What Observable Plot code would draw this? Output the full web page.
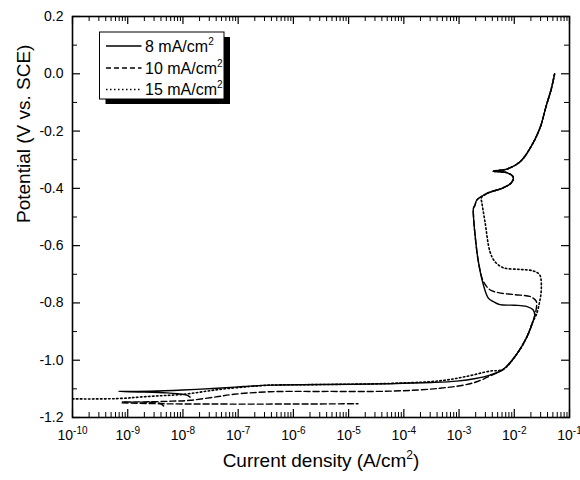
<!DOCTYPE html>
<html><head><meta charset="utf-8">
<script src="https://cdn.jsdelivr.net/npm/d3@7"></script>
<script src="https://cdn.jsdelivr.net/npm/@observablehq/plot@0.6"></script>
<style>body{margin:0;background:#fff;}</style>
</head><body><div id="chart"></div>
<script>
// ---- Data (log10 of current density in A/cm^2, potential in V vs. SCE) ----
const seriesNames = ["8 mA/cm2", "10 mA/cm2", "15 mA/cm2"];

// common anodic upper part (all three curves overlap)
const upperLogI = [-2.5, -2.2, -2.05, -2.02, -2.14, -2.38, -2.14, -1.9, -1.72, -1.54, -1.42, -1.33, -1.27];
const upperE    = [-0.418, -0.398, -0.38, -0.36, -0.345, -0.34, -0.333, -0.308, -0.262, -0.192, -0.111, -0.053, 0.0];

// 8 mA/cm2 (solid)
const s8LogI = [-7.87, -7.93, -8.1, -8.29, -8.7, -9.17, -8.59, -8.0, -7.38, -6.9, -6.42, -5.5, -4.25, -3.5, -3.04, -2.7, -2.44, -2.2, -1.96, -1.78, -1.66, -1.63, -1.66, -1.78, -2.0, -2.26, -2.38, -2.47, -2.56, -2.65, -2.71, -2.74, -2.74, -2.71, -2.68];
const s8E    = [-1.129, -1.122, -1.117, -1.114, -1.111, -1.109, -1.108, -1.104, -1.098, -1.092, -1.087, -1.085, -1.082, -1.078, -1.073, -1.064, -1.052, -1.032, -0.98, -0.922, -0.864, -0.841, -0.824, -0.812, -0.808, -0.806, -0.795, -0.783, -0.737, -0.656, -0.563, -0.493, -0.47, -0.458, -0.441];

// 10 mA/cm2 (dashed) main branch
const d10LogI = [-8.35, -8.42, -8.6, -9.1, -8.6, -8.2, -7.87, -7.4, -7.08, -6.42, -5.5, -4.25, -3.35, -2.74, -2.32, -2.2, -1.96, -1.78, -1.66, -1.61, -1.6, -1.66, -1.72, -2.0, -2.29, -2.44, -2.56, -2.65, -2.71, -2.74, -2.74, -2.71, -2.68];
const d10E    = [-1.160, -1.150, -1.147, -1.146, -1.145, -1.143, -1.140, -1.128, -1.119, -1.110, -1.109, -1.108, -1.098, -1.079, -1.044, -1.032, -0.98, -0.922, -0.864, -0.83, -0.795, -0.783, -0.777, -0.771, -0.764, -0.754, -0.725, -0.656, -0.563, -0.493, -0.47, -0.458, -0.441];
// 10 mA/cm2 (dashed) lower branch
const d10bLogI = [-9.1, -8.4, -7.5, -6.0, -4.83];
const d10bE    = [-1.149, -1.152, -1.153, -1.153, -1.152];

// 15 mA/cm2 (dotted)
const p15LogI = [-10, -9.2, -8.59, -7.99, -7.38, -6.8, -6.42, -5.5, -4.25, -3.35, -2.9, -2.44, -2.2, -1.96, -1.78, -1.66, -1.6, -1.54, -1.51, -1.54, -1.66, -1.9, -2.2, -2.35, -2.44, -2.53, -2.59, -2.6];
const p15E    = [-1.135, -1.134, -1.126, -1.119, -1.103, -1.092, -1.087, -1.085, -1.081, -1.072, -1.058, -1.038, -1.032, -0.98, -0.922, -0.864, -0.841, -0.795, -0.749, -0.702, -0.688, -0.683, -0.677, -0.656, -0.621, -0.517, -0.447, -0.435];

// ticks
const xTickExps = [-10, -9, -8, -7, -6, -5, -4, -3, -2, -1];
const xMinorMult = [2, 3, 4, 5, 6, 7, 8, 9];
const yMajorTicks = [0.2, 0.0, -0.2, -0.4, -0.6, -0.8, -1.0, -1.2];
const yMinorTicks = [0.1, -0.1, -0.3, -0.5, -0.7, -0.9, -1.1];
const xLabel = "Current density (A/cm2)";
const yLabel = "Potential (V vs. SCE)";

// ---- build rows ----
function rows(logs, es, seg) { return logs.map((l, k) => ({i: 10 ** l, e: es[k], seg})); }
const rows8 = rows(s8LogI.concat(upperLogI), s8E.concat(upperE), "a");
const rows10 = rows(d10LogI.concat(upperLogI), d10E.concat(upperE), "a").concat(rows(d10bLogI, d10bE, "b"));
const rows15 = rows(p15LogI.concat(upperLogI), p15E.concat(upperE), "a");

const xMajor = xTickExps.map(e => 10 ** e);
const xMinor = xTickExps.slice(0, -1).flatMap(e => xMinorMult.map(m => m * 10 ** e));

const W = 580, H = 480, mL = 72, mR = 11, mT = 16, mB = 63;
const pw = W - mL - mR, ph = H - mT - mB;
const majLen = 8, minLen = 5;

const plot = Plot.plot({
  width: W, height: H,
  marginLeft: mL, marginRight: mR, marginTop: mT, marginBottom: mB,
  style: {fontFamily: "'Liberation Sans', Arial, sans-serif", background: "#fff", color: "#000"},
  x: {type: "log", domain: [1e-10, 1e-1]},
  y: {domain: [-1.2, 0.2]},
  marks: [
    Plot.line(rows8, {x: "i", y: "e", z: "seg", stroke: "#000", strokeWidth: 1.4, curve: "catmull-rom", clip: true}),
    Plot.line(rows10, {x: "i", y: "e", z: "seg", stroke: "#000", strokeWidth: 1.4, strokeDasharray: "6,3", curve: "catmull-rom", clip: true}),
    Plot.line(rows15, {x: "i", y: "e", z: "seg", stroke: "#000", strokeWidth: 1.6, strokeDasharray: "1.5,2.5", curve: "catmull-rom", clip: true}),
    // inward ticks
    Plot.tickX(xMajor, {x: d => d, insetTop: ph - majLen, stroke: "#000", strokeWidth: 1.2}),
    Plot.tickX(xMinor, {x: d => d, insetTop: ph - minLen, stroke: "#000", strokeWidth: 1}),
    Plot.tickX(xMajor, {x: d => d, insetBottom: ph - majLen, stroke: "#000", strokeWidth: 1.2}),
    Plot.tickX(xMinor, {x: d => d, insetBottom: ph - minLen, stroke: "#000", strokeWidth: 1}),
    Plot.tickY(yMajorTicks, {y: d => d, insetRight: pw - majLen, stroke: "#000", strokeWidth: 1.2}),
    Plot.tickY(yMinorTicks, {y: d => d, insetRight: pw - minLen, stroke: "#000", strokeWidth: 1}),
    Plot.tickY(yMajorTicks, {y: d => d, insetLeft: pw - majLen, stroke: "#000", strokeWidth: 1.2}),
    Plot.tickY(yMinorTicks, {y: d => d, insetLeft: pw - minLen, stroke: "#000", strokeWidth: 1}),
    Plot.frame({stroke: "#000", strokeWidth: 1.6}),
    Plot.axisX({ticks: xMajor, tickSize: 0, tickPadding: 13, fontSize: 14, label: null,
      tickFormat: d => "10^" + Math.round(Math.log10(d))}),
    Plot.axisY({ticks: yMajorTicks, tickSize: 0, tickPadding: 9, fontSize: 14, label: null,
      tickFormat: d => d.toFixed(1)}),
    Plot.text([xLabel], {frameAnchor: "bottom", dy: 49, fontSize: 19, fill: "#000"}),
    Plot.text([yLabel], {frameAnchor: "left", rotate: -90, dx: -49, dy: 6, fontSize: 19, fill: "#000"})
  ]
});
document.getElementById("chart").appendChild(plot);

const svg = d3.select(plot);

// superscripts for x tick labels
svg.selectAll('g[aria-label="x-axis tick label"] text').each(function () {
  const t = d3.select(this);
  const s = t.text();
  const [base, exp] = s.split("^");
  t.text(null);
  t.append("tspan").text(base);
  t.append("tspan").attr("font-size", 10).attr("dy", -6).text(exp);
});

// superscript in x title
svg.selectAll("text").filter(function () { return d3.select(this).text() === xLabel; }).each(function () {
  const t = d3.select(this);
  t.text(null);
  t.append("tspan").text("Current density (A/cm");
  t.append("tspan").attr("font-size", 12).attr("dy", -8).text("2");
  t.append("tspan").attr("dy", 8).text(")");
});

// legend (drawn inside the plot frame)
const lg = svg.append("g").attr("transform", "translate(99.5,32)")
  .attr("font-family", "'Liberation Sans', Arial, sans-serif")
  .attr("text-anchor", "start");
const bw = 124.5, bh = 67;
lg.append("rect").attr("x", 6).attr("y", 5).attr("width", bw).attr("height", bh).attr("fill", "#000");
lg.append("rect").attr("x", 0).attr("y", 0).attr("width", bw).attr("height", bh).attr("fill", "#fff").attr("stroke", "#000").attr("stroke-width", 1);
const dashes = [null, "5,3", "1.5,2.5"];
const rowsY = [14, 36, 57.5];
seriesNames.forEach((name, k) => {
  const y = rowsY[k];
  const ln = lg.append("line").attr("x1", 6.5).attr("x2", 42).attr("y1", y).attr("y2", y)
    .attr("stroke", "#000").attr("stroke-width", 1.3);
  if (dashes[k]) ln.attr("stroke-dasharray", dashes[k]);
  const t = lg.append("text").attr("x", 45.5).attr("y", y + 5.8).attr("font-size", 16)
    .attr("fill", "#000").attr("text-anchor", "start");
  t.append("tspan").text(name.slice(0, -1));
  t.append("tspan").attr("font-size", 10).attr("dy", -7).text(name.slice(-1));
});
</script></body></html>
